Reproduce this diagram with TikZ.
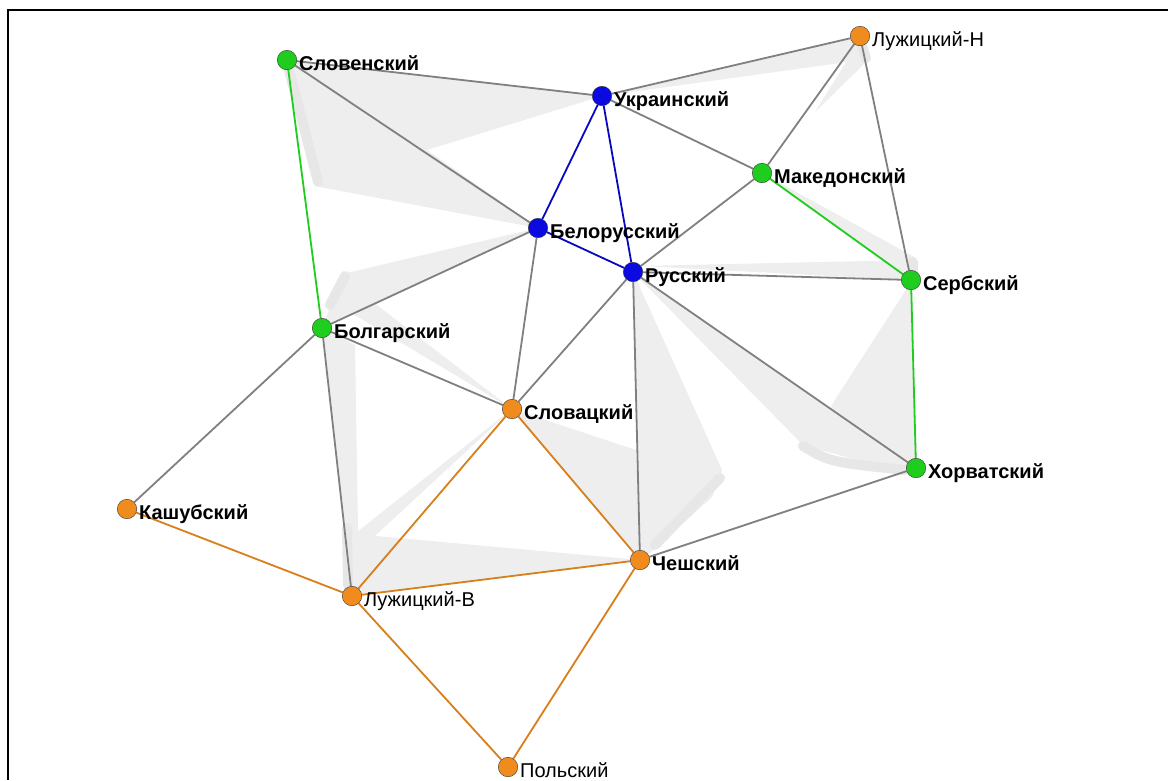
\documentclass[tikz,border=0pt]{standalone}
\usepackage{fontspec}
\setmainfont{Liberation Sans}
\usepackage{tikz}
\usetikzlibrary{arrows,shapes,backgrounds}
\definecolor{lorange}{RGB}{240,140,30}
\definecolor{lgreen}{RGB}{30,205,30}
\definecolor{lblue}{RGB}{10,10,225}
\definecolor{ghost}{RGB}{238,238,238}
\definecolor{trailc}{RGB}{231,231,231}
\newcommand{\langfont}{\fontsize{20}{23}\selectfont}
\tikzstyle{lang} = [circle, draw=black!80, thin, minimum size=19.5pt, inner sep=0pt]
\tikzstyle{olang} = [lang, fill=lorange]
\tikzstyle{glang} = [lang, fill=lgreen]
\tikzstyle{blang} = [lang, fill=lblue]
\tikzstyle{lab} = [anchor=base west, inner sep=0pt, xshift=2pt, yshift=-10.5pt, font=\langfont\bfseries]
\tikzstyle{labn} = [lab, font=\langfont]
\tikzstyle{link} = [line width=1.8pt]
\tikzstyle{trail} = [trailc, line width=10pt, line cap=round]

\begin{document}
\begin{tikzpicture}[x=1pt,y=-1pt]

    \useasboundingbox (0,0) rectangle (1168,780);

    %languages
    \node[glang, label={[lab]0:Словенский}] at (287,60) (Slo) {};
    \node[blang, label={[lab]0:Украинский}] at (602,96) (Ukr) {};
    \node[olang, label={[labn]0:Лужицкий-Н}] at (860,36) (LuN) {};
    \node[glang, label={[lab]0:Македонский}] at (762,173) (Mak) {};
    \node[blang, label={[lab]0:Белорусский}] at (538,228) (Bel) {};
    \node[blang, label={[lab]0:Русский}] at (633,272) (Rus) {};
    \node[glang, label={[lab]0:Сербский}] at (911,280) (Ser) {};
    \node[glang, label={[lab]0:Болгарский}] at (322,328) (Bol) {};
    \node[olang, label={[lab]0:Словацкий}] at (512,409) (Slk) {};
    \node[glang, label={[lab]0:Хорватский}] at (916,468) (Hor) {};
    \node[olang, label={[lab]0:Кашубский}] at (127,509) (Kas) {};
    \node[olang, label={[lab]0:Чешский}] at (640,560) (Che) {};
    \node[olang, label={[labn]0:Лужицкий-В}] at (352,596) (LuB) {};
    \node[olang, label={[labn]0:Польский}] at (508,767) (Pol) {};

    \begin{pgfonlayer}{background}
    \fill[white] (0,0) rectangle (1168,780);
    \draw[black, line width=1.2pt] (8,780) -- (8,10) -- (1168,10);

    %ghost traces
    \fill[ghost] (287,60) -- (602,96) -- (427,150) -- (538,228) -- (320,187) -- cycle;
    \fill[ghost] (538,228) -- (347,273) -- (328,312) -- (322,328) -- cycle;
    \fill[ghost] (347,282) -- (333,302) -- (512,409) -- cycle;
    \fill[ghost] (322,328) -- (355,345) -- (358,530) -- (352,596) -- cycle;
    \fill[ghost] (352,536) -- (364,546) -- (512,409) -- cycle;
    \fill[ghost] (345,527) -- (365,535) -- (640,560) -- (352,596) -- (343,585) -- cycle;
    \fill[ghost] (512,409) -- (636,450) -- (640,560) -- cycle;
    \fill[ghost] (633,272) -- (722,470) -- (712,497) -- (650,553) -- (640,560) -- cycle;
    \fill[ghost] (633,272) -- (916,468) -- (900,472) -- (803,445) -- cycle;
    \fill[ghost] (911,282) -- (833,403) -- (815,440) -- (905,472) -- (916,468) -- cycle;
    \fill[ghost] (640,266) -- (913,260) -- (911,280) -- cycle;
    \fill[ghost] (762,173) -- (916,258) -- (911,280) -- cycle;
    \fill[ghost] (602,96) -- (860,36) -- (862,60) -- cycle;
    \fill[ghost] (860,40) -- (868,60) -- (815,112) -- cycle;
    \draw[trail] (288,66) -- (318,182);
    \draw[trail] (345,276) -- (330,305);
    \draw[trail] (347,528) -- (348,585);
    \draw[trail] (720,478) -- (655,545);
    \draw[trail] (803,446) .. controls (830,462) .. (905,470);
    \draw[trail] (913,262) -- (913,276);
    \draw[trail] (860,40) -- (866,58);

    %links
    \foreach \a/\b in {Slo/Ukr, Slo/Bel, Ukr/LuN, Ukr/Mak, LuN/Mak, LuN/Ser, Mak/Rus, Rus/Ser,
                       Rus/Hor, Rus/Che, Rus/Slk, Bel/Bol, Bel/Slk, Bol/Slk, Bol/Kas, Bol/LuB, Che/Hor}
      \draw[link, gray] (\a) -- (\b);
    \foreach \a/\b in {Ukr/Bel, Ukr/Rus, Bel/Rus}
      \draw[link, lblue!85!black] (\a) -- (\b);
    \foreach \a/\b in {Slo/Bol, Mak/Ser, Ser/Hor}
      \draw[link, lgreen] (\a) -- (\b);
    \foreach \a/\b in {Slk/LuB, Slk/Che, Kas/LuB, LuB/Che, LuB/Pol, Che/Pol}
      \draw[link, lorange!90!black] (\a) -- (\b);
    \end{pgfonlayer}

\end{tikzpicture}
\end{document}
